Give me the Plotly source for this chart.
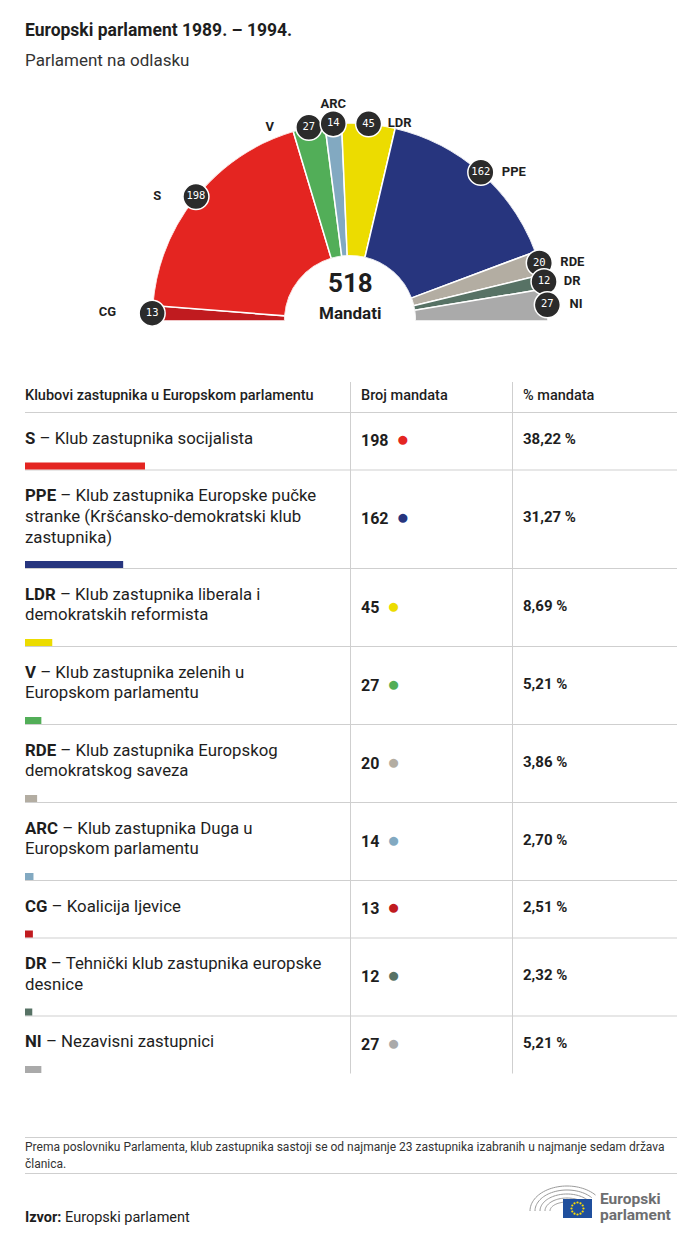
import numpy as np
import plotly.graph_objects as go

W, H = 700, 1242
OFF = 8  # page body margin that offsets the plot div

# ---------------- data ----------------
title = "Europski parlament 1989. – 1994."
subtitle = "Parlament na odlasku"

hemi_groups = ["CG", "S", "V", "ARC", "LDR", "PPE", "RDE", "DR", "NI"]
hemi_seats = [13, 198, 27, 14, 45, 162, 20, 12, 27]
hemi_colors = ["#c01b1f", "#e42521", "#52ae58", "#82a9c1", "#ecdc00",
               "#27357e", "#b3ada2", "#577265", "#aaaaaa"]

table_groups = ["S", "PPE", "LDR", "V", "RDE", "ARC", "CG", "DR", "NI"]
table_seats = [198, 162, 45, 27, 20, 14, 13, 12, 27]
table_lines = [
    ["Klub zastupnika socijalista"],
    ["Klub zastupnika Europske pučke", "stranke (Kršćansko-demokratski klub", "zastupnika)"],
    ["Klub zastupnika liberala i", "demokratskih reformista"],
    ["Klub zastupnika zelenih u", "Europskom parlamentu"],
    ["Klub zastupnika Europskog", "demokratskog saveza"],
    ["Klub zastupnika Duga u", "Europskom parlamentu"],
    ["Koalicija ljevice"],
    ["Tehnički klub zastupnika europske", "desnice"],
    ["Nezavisni zastupnici"],
]
header_labels = ["Klubovi zastupnika u Europskom parlamentu", "Broj mandata", "% mandata"]
total_label = "Mandati"
footnote_lines = [
    "Prema poslovniku Parlamenta, klub zastupnika sastoji se od najmanje 23 zastupnika izabranih u najmanje sedam država",
    "članica.",
]
source_label = "Izvor:"
source_text = "Europski parlament"
logo_lines = ["Europski", "parlament"]

# ---------------- styling ----------------
FONT = "Roboto"
TXT = "#1e1e1e"
GRID = "#cfcfcf"
color_of = dict(zip(hemi_groups, hemi_colors))

label_pos = ["middle left", "middle left", "middle left", "top center", "middle right",
             "middle right", "middle right", "middle right", "middle right"]
label_size = [56, 54, 54, 19, 29, 32, 32, 30, 34]

total = sum(hemi_seats)
span = np.array(hemi_seats) / total * 180.0
start = np.concatenate([[0.0], np.cumsum(span)[:-1]])
theta_mid = 180.0 - (start + span / 2.0)
n = len(hemi_seats)

fig = go.Figure()

# hemicycle
fig.add_trace(go.Barpolar(
    r=[1] * n, theta=theta_mid, width=span, base=0,
    marker=dict(color=hemi_colors, line=dict(color="white", width=1.5)),
    hoverinfo="skip", subplot="polar", showlegend=False))

fig.add_trace(go.Scatterpolar(
    r=[1] * n, theta=theta_mid, mode="markers+text",
    text=["<b>%s</b>" % g for g in hemi_groups], textposition=label_pos,
    textfont=dict(family=FONT, size=13, color=TXT),
    marker=dict(size=label_size, opacity=0),
    cliponaxis=False, hoverinfo="skip", subplot="polar", showlegend=False))

fig.add_trace(go.Scatterpolar(
    r=[1] * n, theta=theta_mid, mode="markers+text",
    text=[str(s) for s in hemi_seats], textposition="middle center",
    textfont=dict(family="DejaVu Sans Mono", size=10.5, color="white"),
    marker=dict(size=26, color="#2b2b2b", line=dict(color="white", width=1.5)),
    cliponaxis=False, hoverinfo="skip", subplot="polar", showlegend=False))

# ---------------- table geometry ----------------
HEADER_LINE = 412.5
row_h = [37 + 20.5 * len(l) for l in table_lines]
row_top = HEADER_LINE + np.concatenate([[0.0], np.cumsum(row_h)[:-1]])
row_bot = row_top + np.array(row_h)

PX_PER_SEAT = 0.606
bar_y = row_bot - 4
fig.add_trace(go.Bar(
    x=table_seats, y=bar_y, base=0, orientation="h", width=7,
    marker=dict(color=[color_of[g] for g in table_groups], line=dict(width=0)),
    xaxis="x2", yaxis="y", hoverinfo="skip", showlegend=False))

annotations = []
shapes = []

def ann(x, y, text, size, color=TXT, xanchor="left", yanchor="middle", family=FONT, weight=None):
    f = dict(family=family, size=size, color=color)
    if weight is not None:
        f["weight"] = weight
    annotations.append(dict(x=x, y=y, xref="x", yref="y", text=text, showarrow=False,
                            xanchor=xanchor, yanchor=yanchor, font=f))

LX = 23
# title
ann(LX, 30, "<b>%s</b>" % title, 17.5)
ann(LX, 60, subtitle, 17, color="#333333")

# center label
ann(350, 283, "<b>%d</b>" % total, 26, xanchor="center")
ann(350, 313, "<b>%s</b>" % total_label, 17, xanchor="center")

# header
ann(LX, 395, header_labels[0], 14.5, weight=500)
ann(359, 395, header_labels[1], 14.5, weight=500)
ann(521, 395, header_labels[2], 14.5, weight=500)

shapes.append(dict(type="line", xref="x", yref="y", x0=25, x1=677, y0=HEADER_LINE, y1=HEADER_LINE,
                   line=dict(color=GRID, width=1), layer="below"))
for xv in (350.5, 512.5):
    shapes.append(dict(type="line", xref="x", yref="y", x0=xv, x1=xv, y0=382, y1=row_bot[-1],
                       line=dict(color=GRID, width=1), layer="below"))

for i, g in enumerate(table_groups):
    top = row_top[i]
    for j, line in enumerate(table_lines[i]):
        txt = ("<b>%s</b> – %s" % (g, line)) if j == 0 else line
        ann(LX, top + 25 + 20.8 * j, txt, 16.8)
    ymid = top + row_h[i] / 2 - 2
    ann(359, ymid, "<b>%d</b>&nbsp;&nbsp;<span style='font-size:21px;color:%s'>●</span>"
        % (table_seats[i], color_of[g]), 16)
    pct = ("%.2f" % (table_seats[i] / total * 100)).replace(".", ",") + " %"
    ann(521, ymid, "<b>%s</b>" % pct, 15)
    if i < len(table_groups) - 1:
        shapes.append(dict(type="line", xref="x", yref="y", x0=25, x1=677, y0=row_bot[i], y1=row_bot[i],
                           line=dict(color=GRID, width=1), layer="below"))

# footnote
shapes.append(dict(type="line", xref="x", yref="y", x0=25, x1=677, y0=1137.5, y1=1137.5,
                   line=dict(color=GRID, width=1), layer="below"))
shapes.append(dict(type="line", xref="x", yref="y", x0=25, x1=677, y0=1173.5, y1=1173.5,
                   line=dict(color=GRID, width=1), layer="below"))
ann(LX, 1147, footnote_lines[0], 12, color="#333333")
ann(LX, 1164, footnote_lines[1], 12, color="#333333")

ann(LX, 1217, "<b>%s</b> %s" % (source_label, source_text), 14.5)

# logo
for k, (rx, ry) in enumerate([(37, 25), (32, 21), (27, 17), (22, 13), (17, 9)]):
    a = np.linspace(np.pi, np.pi * 0.22, 40)
    xs = 567 + rx * np.cos(a)
    ys = 1211 - ry * np.sin(a)
    path = "M " + " L ".join("%.2f,%.2f" % (x, y) for x, y in zip(xs, ys))
    shapes.append(dict(type="path", xref="x", yref="y", path=path,
                       line=dict(color="#9a9a9a", width=1), layer="below"))
shapes.append(dict(type="rect", xref="x", yref="y", x0=563, x1=592, y0=1199, y1=1218,
                   fillcolor="#1f4f9d", line=dict(width=0), layer="below"))
sa = np.linspace(0, 2 * np.pi, 13)[:-1]
fig.add_trace(go.Scatter(x=577.5 + 6 * np.cos(sa), y=1208.5 + 6 * np.sin(sa), mode="markers",
                         marker=dict(size=2.2, color="#ffdd00"), hoverinfo="skip",
                         showlegend=False, xaxis="x", yaxis="y"))
ann(598, 1199, "<b>%s</b>" % logo_lines[0], 15.5, color="#6d6e70")
ann(598, 1215, "<b>%s</b>" % logo_lines[1], 15.5, color="#6d6e70")

fig.update_layout(
    width=W, height=H, autosize=False,
    margin=dict(l=0, r=0, t=0, b=0),
    paper_bgcolor="white", plot_bgcolor="rgba(0,0,0,0)",
    showlegend=False,
    xaxis=dict(range=[OFF, W + OFF], visible=False, domain=[0, 1], fixedrange=True),
    xaxis2=dict(overlaying="x", range=[(OFF - 25) / PX_PER_SEAT, (W + OFF - 25) / PX_PER_SEAT],
                visible=False),
    yaxis=dict(range=[H + OFF, OFF], visible=False, domain=[0, 1], fixedrange=True),
    polar=dict(
        domain=dict(x=[(152 - OFF) / W, (548 - OFF) / W],
                    y=[(H - (321 - OFF)) / H, (H - (123 - OFF)) / H]),
        sector=[0, 180], hole=0.33, bgcolor="rgba(0,0,0,0)",
        radialaxis=dict(visible=False, range=[0, 1], showgrid=False),
        angularaxis=dict(visible=False, showgrid=False, showline=False, ticks=""),
    ),
    annotations=annotations, shapes=shapes,
)

fig.write_html("out.html")
